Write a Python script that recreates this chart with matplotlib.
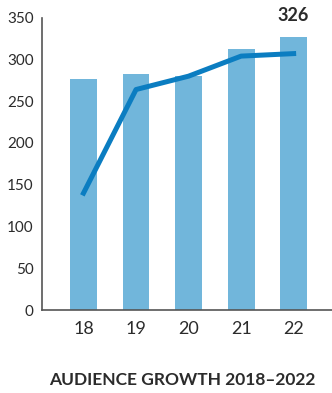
import matplotlib.pyplot as plt

# Data
years = ["18", "19", "20", "21", "22"]
bar_values = [277, 282, 280, 313, 327]
line_values = [140, 264, 280, 304, 307]
y_ticks = [0, 50, 100, 150, 200, 250, 300, 350]

bar_color = "#71b6db"
line_color = "#0b7dc1"
text_color = "#2b2b2b"

plt.rcParams["font.family"] = ["Lato", "DejaVu Sans"]

fig = plt.figure(figsize=(3.32, 3.93), dpi=100)
ax = fig.add_axes([0.1265, 0.211, 0.8735, 0.744])

x = list(range(len(years)))
ax.bar(x, bar_values, width=0.51, color=bar_color, zorder=1)
ax.plot(x, line_values, color=line_color, linewidth=3.6, zorder=2)

# Highlight last value
ax.text(x[-1], 343, "326", ha="center", va="bottom", fontsize=13,
        fontweight="bold", color=text_color, clip_on=False)

ax.set_xlim(-0.79, 4.73)
ax.set_ylim(0, 350)
ax.set_xticks(x)
ax.set_xticklabels(years, fontsize=13, color=text_color)
ax.set_yticks(y_ticks)
ax.set_yticklabels([str(v) for v in y_ticks], fontsize=11, color=text_color)
ax.tick_params(axis="both", length=0)
ax.tick_params(axis="y", pad=6)
ax.tick_params(axis="x", pad=8)

for side in ["top", "right"]:
    ax.spines[side].set_visible(False)
for side in ["left", "bottom"]:
    ax.spines[side].set_color("#555555")
    ax.spines[side].set_linewidth(1.2)

fig.text(0.548, 0.012, "AUDIENCE GROWTH 2018\u20132022", ha="center", va="bottom",
         fontsize=12.5, fontweight="bold", color=text_color)

fig.savefig("out.png", dpi=100)
